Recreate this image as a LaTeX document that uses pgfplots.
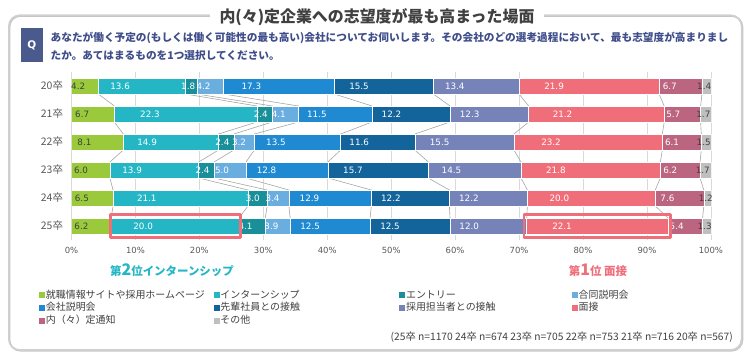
\documentclass[border=0pt]{standalone}
\usepackage{pgfplots}
\pgfplotsset{compat=1.18}
\usepackage{fontspec}
\setmainfont{DejaVu Sans}
\newfontfamily\jp{Noto Sans CJK JP}
\definecolor{cA}{HTML}{9ACA3C}
\definecolor{cB}{HTML}{25B6C6}
\definecolor{cC}{HTML}{188F99}
\definecolor{cD}{HTML}{6AAEE0}
\definecolor{cE}{HTML}{1F8AD2}
\definecolor{cF}{HTML}{12649B}
\definecolor{cG}{HTML}{7583B8}
\definecolor{cH}{HTML}{F06E7A}
\definecolor{cI}{HTML}{BC6580}
\definecolor{cJ}{HTML}{BFBFBF}
\definecolor{darkt}{HTML}{404040}
\definecolor{tickc}{HTML}{595959}
\definecolor{gridc}{HTML}{D9D9D9}
\definecolor{linec}{HTML}{A6A6A6}
\definecolor{qbox}{HTML}{4A5A8C}
\definecolor{qtext}{HTML}{3F4E8A}
\definecolor{framec}{HTML}{D0D0D0}
\pgfplotsset{base/.style={scale only axis, width=640bp, height=168bp,
  xmin=0, xmax=100.1, ymin=-0.5, ymax=5.5, at={(71.5bp,116bp)}, anchor=south west}}
\begin{document}
\begin{tikzpicture}[x=1bp,y=1bp]
\path[use as bounding box] (0,0) rectangle (750,356);
% frame
\draw[color=gray!45, line width=1.6bp, rounded corners=11bp] (9.5,5.2) rectangle (742.5,340);
\draw[color=framec, line width=1.6bp, rounded corners=11bp] (8.8,6) rectangle (741.6,340.8);
\node[fill=white, inner xsep=10bp, inner ysep=1bp, font=\jp\bfseries\fontsize{16}{18}\selectfont, text=darkt] at (377,339) {内(々)定企業への志望度が最も高まった場面};
% Q
\fill[qbox] (20.7,294) rectangle (42.7,328);
\node[text=white, font=\bfseries\fontsize{10.5}{12}\selectfont] at (31.7,311) {Q};
\node[anchor=base west, inner sep=0pt, font=\jp\bfseries\fontsize{10.7}{12}\selectfont, text=qtext] at (50.5,314.2) {あなたが働く予定の(もしくは働く可能性の最も高い)会社についてお伺いします。その会社のどの選考過程において、最も志望度が高まりまし};
\node[anchor=base west, inner sep=0pt, font=\jp\bfseries\fontsize{10.7}{12}\selectfont, text=qtext] at (50.5,296.9) {たか。あてはまるものを1つ選択してください。};

% axis 1: grid, ticks, connecting lines
\begin{axis}[base,
  xtick={0,10,...,100},
  xticklabel={\pgfmathprintnumber{\tick}\%},
  ytick={0,1,2,3,4,5},
  yticklabels={25卒,24卒,23卒,22卒,21卒,20卒},
  xmajorgrids, grid style={draw=gridc, line width=0.7bp},
  axis line style={draw=none},
  major tick length=0pt,
  /pgf/number format/assume math mode=true,
  xticklabel style={font=\fontsize{8.5}{10}\selectfont, text=tickc, yshift=-4bp},
  yticklabel style={font=\jp\fontsize{10.5}{12}\selectfont, text=tickc, xshift=-5bp},
]
\addplot[linec, line width=0.6bp] coordinates {(4.2,4.714) (6.7,4.286) (6.7,3.714) (8.1,3.286) (8.1,2.714) (6.0,2.286) (6.0,1.714) (6.5,1.286) (6.5,0.714) (6.2,0.286)};
\addplot[linec, line width=0.6bp] coordinates {(17.8,4.714) (29.0,4.286) (29.0,3.714) (23.0,3.286) (23.0,2.714) (19.9,2.286) (19.9,1.714) (27.6,1.286) (27.6,0.714) (26.2,0.286)};
\addplot[linec, line width=0.6bp] coordinates {(19.6,4.714) (31.4,4.286) (31.4,3.714) (25.4,3.286) (25.4,2.714) (22.3,2.286) (22.3,1.714) (30.6,1.286) (30.6,0.714) (30.3,0.286)};
\addplot[linec, line width=0.6bp] coordinates {(23.8,4.714) (35.5,4.286) (35.5,3.714) (28.6,3.286) (28.6,2.714) (27.3,2.286) (27.3,1.714) (34.0,1.286) (34.0,0.714) (34.2,0.286)};
\addplot[linec, line width=0.6bp] coordinates {(41.1,4.714) (47.0,4.286) (47.0,3.714) (42.1,3.286) (42.1,2.714) (40.1,2.286) (40.1,1.714) (46.9,1.286) (46.9,0.714) (46.7,0.286)};
\addplot[linec, line width=0.6bp] coordinates {(56.6,4.714) (59.2,4.286) (59.2,3.714) (53.7,3.286) (53.7,2.714) (55.8,2.286) (55.8,1.714) (59.1,1.286) (59.1,0.714) (59.2,0.286)};
\addplot[linec, line width=0.6bp] coordinates {(70.0,4.714) (71.5,4.286) (71.5,3.714) (69.2,3.286) (69.2,2.714) (70.3,2.286) (70.3,1.714) (71.3,1.286) (71.3,0.714) (71.2,0.286)};
\addplot[linec, line width=0.6bp] coordinates {(91.9,4.714) (92.7,4.286) (92.7,3.714) (92.4,3.286) (92.4,2.714) (92.1,2.286) (92.1,1.714) (91.3,1.286) (91.3,0.714) (93.3,0.286)};
\addplot[linec, line width=0.6bp] coordinates {(98.6,4.714) (98.4,4.286) (98.4,3.714) (98.5,3.286) (98.5,2.714) (98.3,2.286) (98.3,1.714) (98.9,1.286) (98.9,0.714) (98.7,0.286)};
\end{axis}

% axis 2: stacked bars
\begin{axis}[base, hide axis, xbar stacked, bar width=16bp,
  /pgf/number format/assume math mode=true,
  visualization depends on=rawx \as \rawx,
  nodes near coords={\pgfmathprintnumber[fixed,fixed zerofill,precision=1,assume math mode=true]{\rawx}},
  every node near coord/.append style={anchor=center, shift={(axis direction cs:-\rawx/4,0)}, font=\fontsize{8.8}{10}\selectfont, text=white, inner sep=0pt},
  legend columns=4,
  legend cell align=left,
  legend image code/.code={\path[#1, draw=none] (0bp,-3bp) rectangle (6bp,3bp);},
  legend style={at={(axis description cs:-0.051,-0.292)}, anchor=north west, draw=none, fill=none, inner sep=0pt,
    font=\jp\fontsize{10}{10}\selectfont, text=darkt,
    nodes={inner sep=0.8bp, text height=8bp, text depth=2bp},
    row sep=1.2bp, column sep=0bp},
]
\addplot[fill=cA, draw=white, line width=0.6bp, every node near coord/.append style={text=darkt}] coordinates {(4.2,5) (6.7,4) (8.1,3) (6.0,2) (6.5,1) (6.2,0)};
\addlegendentry{\makebox[167bp][l]{就職情報サイトや採用ホームページ}}
\addplot[fill=cB, draw=white, line width=0.6bp] coordinates {(13.6,5) (22.3,4) (14.9,3) (13.9,2) (21.1,1) (20.0,0)};
\addlegendentry{\makebox[178bp][l]{インターンシップ}}
\addplot[fill=cC, draw=white, line width=0.6bp] coordinates {(1.8,5) (2.4,4) (2.4,3) (2.4,2) (3.0,1) (4.1,0)};
\addlegendentry{\makebox[165bp][l]{エントリー}}
\addplot[fill=cD, draw=white, line width=0.6bp] coordinates {(4.2,5) (4.1,4) (3.2,3) (5.0,2) (3.4,1) (3.9,0)};
\addlegendentry{\makebox[100bp][l]{合同説明会}}
\addplot[fill=cE, draw=white, line width=0.6bp] coordinates {(17.3,5) (11.5,4) (13.5,3) (12.8,2) (12.9,1) (12.5,0)};
\addlegendentry{会社説明会}
\addplot[fill=cF, draw=white, line width=0.6bp] coordinates {(15.5,5) (12.2,4) (11.6,3) (15.7,2) (12.2,1) (12.5,0)};
\addlegendentry{先輩社員との接触}
\addplot[fill=cG, draw=white, line width=0.6bp] coordinates {(13.4,5) (12.3,4) (15.5,3) (14.5,2) (12.2,1) (12.0,0)};
\addlegendentry{採用担当者との接触}
\addplot[fill=cH, draw=white, line width=0.6bp] coordinates {(21.9,5) (21.2,4) (23.2,3) (21.8,2) (20.0,1) (22.1,0)};
\addlegendentry{面接}
\addplot[fill=cI, draw=white, line width=0.6bp] coordinates {(6.7,5) (5.7,4) (6.1,3) (6.2,2) (7.6,1) (5.4,0)};
\addlegendentry{内（々）定通知}
\addplot[fill=cJ, draw=white, line width=0.6bp, every node near coord/.append style={text=darkt}] coordinates {(1.4,5) (1.7,4) (1.5,3) (1.7,2) (1.2,1) (1.3,0)};
\addlegendentry{その他}
\end{axis}

% axis 3: highlight boxes
\begin{axis}[base, hide axis]
\addplot[draw=cH, line width=2.6bp, line join=round] coordinates {(6.1,-0.41) (26.4,-0.41) (26.4,0.41) (6.1,0.41) (6.1,-0.41) (26.4,-0.41)};
\addplot[draw=cH, line width=2.6bp, line join=round] coordinates {(70.75,-0.41) (93.7,-0.41) (93.7,0.41) (70.75,0.41) (70.75,-0.41) (93.7,-0.41)};
\end{axis}

\node[text=cB, font=\jp\bfseries\fontsize{11.5}{13}\selectfont, inner sep=0pt] at (172,86) {第{\fontsize{16}{16}\selectfont 2}位インターンシップ};
\node[text=cH, font=\jp\bfseries\fontsize{11.5}{13}\selectfont, inner sep=0pt] at (598,86) {第{\fontsize{16}{16}\selectfont 1}位 面接};
\node[anchor=east, inner sep=0pt, font=\jp\fontsize{10.3}{12}\selectfont, text=darkt] at (733,19.3) {(25卒 n=1170 24卒 n=674 23卒 n=705 22卒 n=753 21卒 n=716 20卒 n=567)};
\end{tikzpicture}
\end{document}
